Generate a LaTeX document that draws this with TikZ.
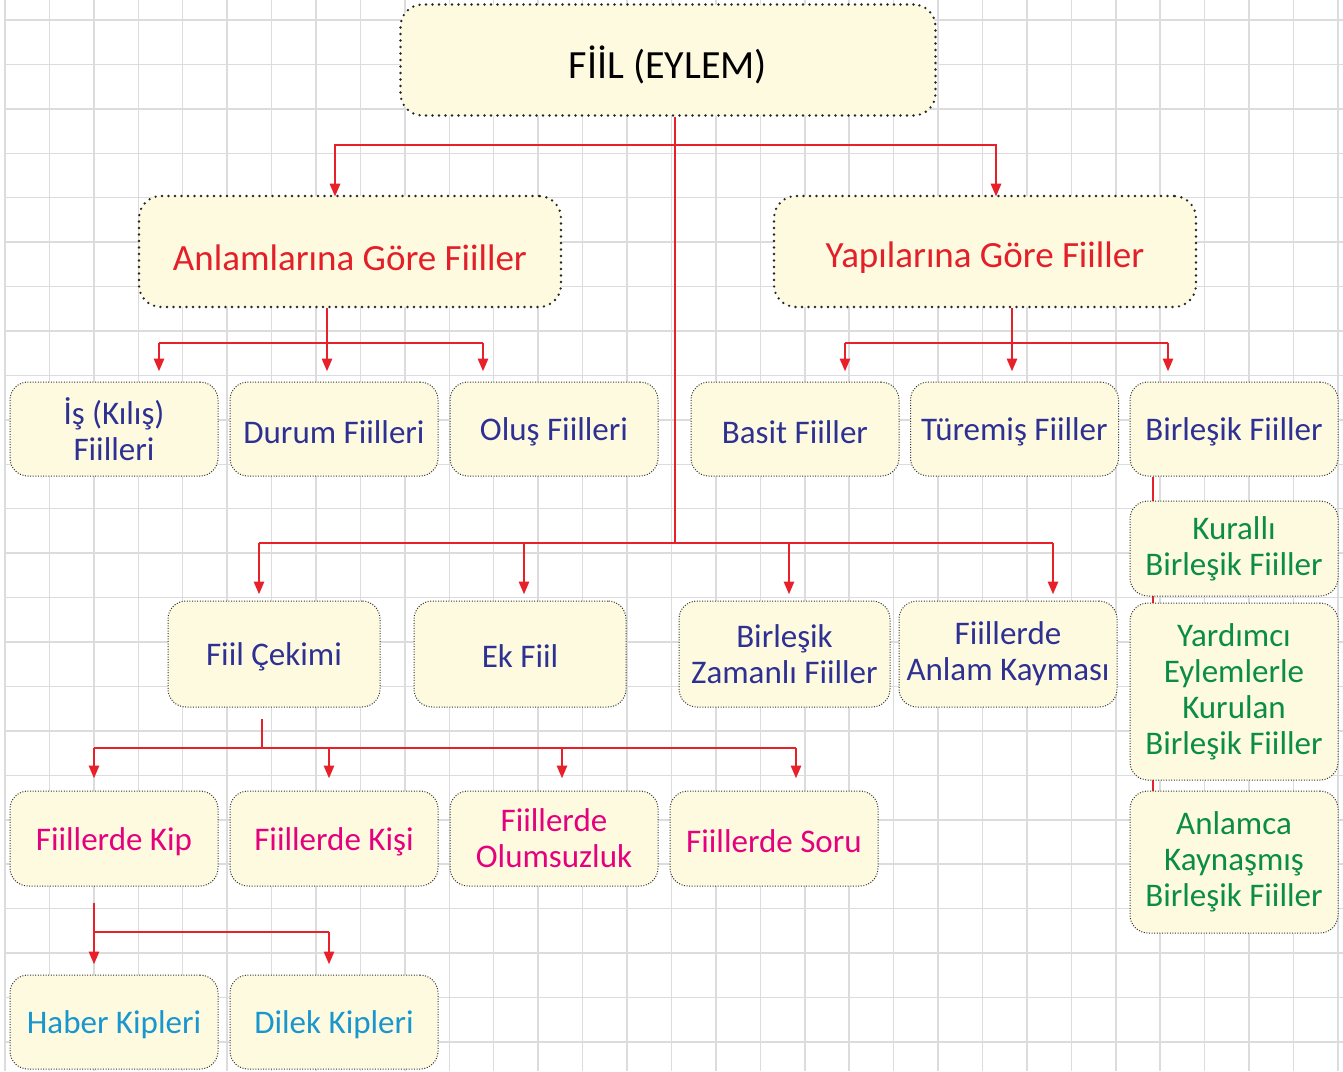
\documentclass[tikz,border=0pt]{standalone}
\usepackage{fontspec}
\setmainfont{Carlito}
\usetikzlibrary{arrows.meta}
\pgfdeclarelayer{gridlayer}
\pgfdeclarelayer{bglayer}
\pgfsetlayers{gridlayer,bglayer,main}
\definecolor{cream}{HTML}{FDFAE0}
\definecolor{connred}{HTML}{E8202A}
\definecolor{navy}{HTML}{2E3192}
\definecolor{tred}{HTML}{E3202A}
\definecolor{tgreen}{HTML}{0B8D45}
\definecolor{tmag}{HTML}{E5007D}
\definecolor{tblue}{HTML}{1A96CF}
\definecolor{gridc}{HTML}{DCDCDC}
\newcommand{\lowertxt}[2]{\raisebox{-#1}[\height][\depth]{#2}}
\begin{document}
\begin{tikzpicture}[x=1pt,y=-1pt,
  gridline/.style={draw=gridc,line width=1.5pt},
  bigbox/.style={draw=black!85,fill=cream,rounded corners=22pt,line width=2.6pt,
    dash pattern=on 0pt off 6.5pt,line cap=round,inner sep=0pt,align=center},
  smallbox/.style={draw=black!80,fill=cream,rounded corners=18pt,line width=1pt,
    dash pattern=on 1pt off 1.6pt,inner sep=0pt,align=center,
    minimum width=208pt,font=\fontsize{33}{36}\selectfont},
  conn/.style={draw=connred,line width=2.8pt},
  arr/.style={conn,-{Triangle[width=10pt,length=13pt]}},
]
\useasboundingbox (0,0) rectangle (1343,1071);
\begin{pgfonlayer}{gridlayer}
\fill[white] (0,0) rectangle (1343,1071);
\foreach \i in {0,...,30} \draw[gridline] ({5+44.43*\i},0) -- ({5+44.43*\i},1071);
\foreach \j in {0,...,23} \draw[gridline] (5,{20+44.43*\j}) -- (1343,{20+44.43*\j});
\end{pgfonlayer}

% root and level 2
\node[bigbox,minimum width=535pt,minimum height=111pt,font=\fontsize{40}{44}\selectfont] (root) at (668,60) {\lowertxt{5pt}{FİİL (EYLEM)}};
\node[bigbox,minimum width=422pt,minimum height=111pt,text=tred,font=\fontsize{37}{40}\selectfont] (anl) at (350,251.5) {\lowertxt{6pt}{Anlamlarına Göre Fiiller}};
\node[bigbox,minimum width=422pt,minimum height=111pt,text=tred,font=\fontsize{37}{40}\selectfont] (yap) at (985,251.5) {\lowertxt{6pt}{Yapılarına Göre Fiiller}};

% level 3
\node[smallbox,minimum height=94pt,text=navy] (is) at (114,429) {İş (Kılış)\\Fiilleri};
\node[smallbox,minimum height=94pt,text=navy] (dur) at (334,429) {\lowertxt{3pt}{Durum Fiilleri}};
\node[smallbox,minimum height=94pt,text=navy] (olu) at (554,429) {\lowertxt{3pt}{Oluş Fiilleri}};
\node[smallbox,minimum height=94pt,text=navy] (bas) at (795,429) {\lowertxt{3pt}{Basit Fiiller}};
\node[smallbox,minimum height=94pt,text=navy] (tur) at (1014.5,429) {\lowertxt{3pt}{Türemiş Fiiller}};
\node[smallbox,minimum height=94pt,text=navy] (bir) at (1234,429) {\lowertxt{3pt}{Birleşik Fiiller}};

% right column
\node[smallbox,minimum height=95pt,text=tgreen] (kur) at (1234,548.5) {Kurallı\\Birleşik Fiiller};
\node[smallbox,minimum height=177pt,text=tgreen] (yrd) at (1234,691.5) {Yardımcı\\Eylemlerle\\Kurulan\\Birleşik Fiiller};
\node[smallbox,minimum height=142pt,text=tgreen] (ank) at (1234,862) {Anlamca\\Kaynaşmış\\Birleşik Fiiller};

% level 4
\node[smallbox,minimum width=212pt,minimum height=106pt,text=navy] (cek) at (274,654) {\lowertxt{3pt}{Fiil Çekimi}};
\node[smallbox,minimum width=212pt,minimum height=106pt,text=navy] (ek) at (520,654) {\lowertxt{2pt}{Ek Fiil}};
\node[smallbox,minimum width=211pt,minimum height=106pt,text=navy] (bzf) at (784.5,654) {Birleşik\\Zamanlı Fiiller};
\node[smallbox,minimum width=218pt,minimum height=106pt,text=navy] (fak) at (1008,654) {Fiillerde\\Anlam Kayması};

% level 5
\node[smallbox,minimum height=95pt,text=tmag] (kip) at (114,838.5) {\lowertxt{3pt}{Fiillerde Kip}};
\node[smallbox,minimum height=95pt,text=tmag] (kisi) at (334,838.5) {\lowertxt{3pt}{Fiillerde Kişi}};
\node[smallbox,minimum height=95pt,text=tmag] (olm) at (554,838.5) {Fiillerde\\Olumsuzluk};
\node[smallbox,minimum height=95pt,text=tmag] (soru) at (774,838.5) {\lowertxt{3pt}{Fiillerde Soru}};

% level 6
\node[smallbox,minimum height=94pt,text=tblue] (hab) at (114,1022) {\lowertxt{3pt}{Haber Kipleri}};
\node[smallbox,minimum height=94pt,text=tblue] (dil) at (334,1022) {\lowertxt{3pt}{Dilek Kipleri}};

% connectors
\begin{pgfonlayer}{bglayer}
\draw[conn] (root.south -| 675,0) -- (675,543);
\draw[conn] (bir.south -| 1153,0) -- (ank.north -| 1153,0);
\end{pgfonlayer}
\draw[arr] (675,145) -| ([yshift=-2pt]anl.north -| 335,0);
\draw[arr] (675,145) -| ([yshift=-2pt]yap.north -| 996,0);

\draw[conn] (anl.south -| 327,0) -- (327,343);
\draw[conn] (159,343) -- (483,343);
\draw[arr] (159,343) -- ([yshift=10pt]is.north -| 159,0);
\draw[arr] (327,343) -- ([yshift=10pt]dur.north -| 327,0);
\draw[arr] (483,343) -- ([yshift=10pt]olu.north -| 483,0);

\draw[conn] (yap.south -| 1012,0) -- (1012,343);
\draw[conn] (845,343) -- (1168,343);
\draw[arr] (845,343) -- ([yshift=10pt]bas.north -| 845,0);
\draw[arr] (1012,343) -- ([yshift=10pt]tur.north -| 1012,0);
\draw[arr] (1168,343) -- ([yshift=10pt]bir.north -| 1168,0);

\draw[conn] (259,543) -- (1053,543);
\draw[arr] (259,543) -- ([yshift=6pt]cek.north -| 259,0);
\draw[arr] (524,543) -- ([yshift=6pt]ek.north -| 524,0);
\draw[arr] (789,543) -- ([yshift=6pt]bzf.north -| 789,0);
\draw[arr] (1053,543) -- ([yshift=6pt]fak.north -| 1053,0);

\draw[conn] ([yshift=-11pt]cek.south -| 262,0) -- (262,748);
\draw[conn] (94,748) -- (796,748);
\draw[arr] (94,748) -- ([yshift=12pt]kip.north -| 94,0);
\draw[arr] (329,748) -- ([yshift=12pt]kisi.north -| 329,0);
\draw[arr] (562,748) -- ([yshift=12pt]olm.north -| 562,0);
\draw[arr] (796,748) -- ([yshift=12pt]soru.north -| 796,0);

\draw[conn] ([yshift=-16pt]kip.south -| 94,0) -- (94,932) -- (329,932);
\draw[arr] (94,932) -- ([yshift=10pt]hab.north -| 94,0);
\draw[arr] (329,932) -- ([yshift=10pt]dil.north -| 329,0);
\end{tikzpicture}
\end{document}
